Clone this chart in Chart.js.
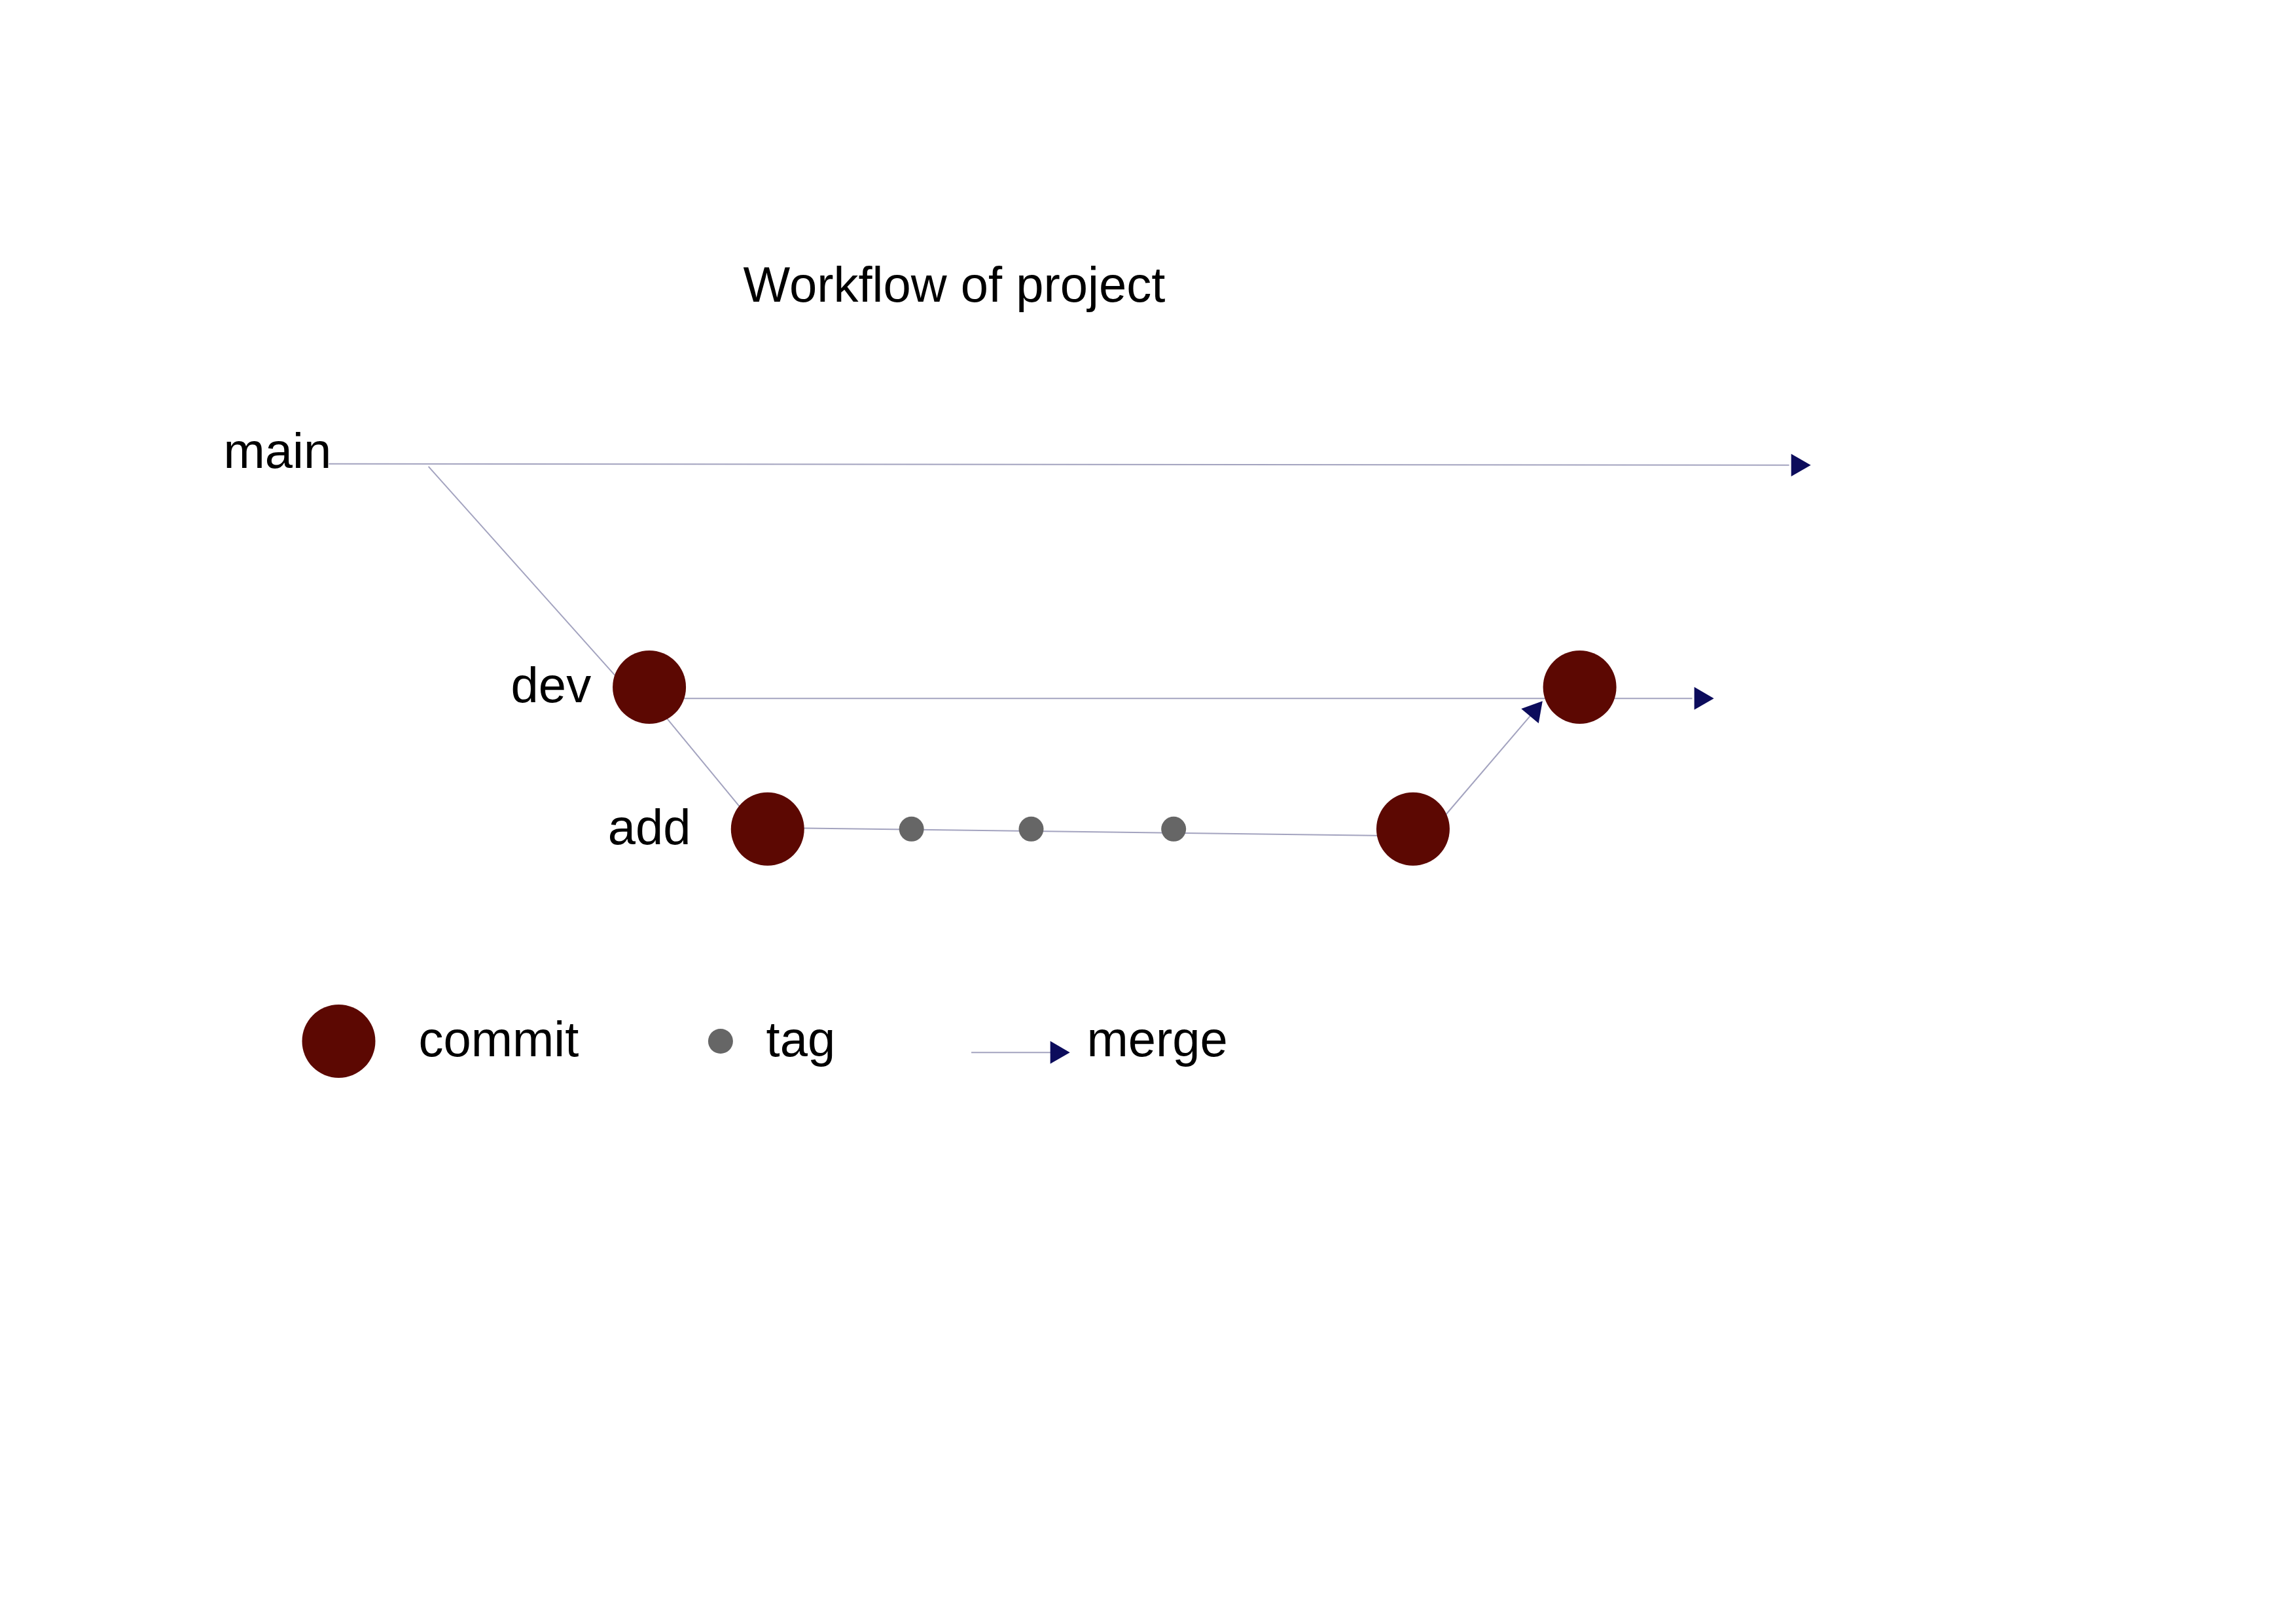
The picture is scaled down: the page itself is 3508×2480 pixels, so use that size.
<!DOCTYPE html>
<html>
<head>
<meta charset="utf-8">
<script src="https://cdn.jsdelivr.net/npm/chart.js@4.4.0/dist/chart.umd.min.js"></script>
<style>
  html, body { margin: 0; padding: 0; background: #fff; }
  #wrap { width: 3508px; height: 2480px; }
</style>
</head>
<body>
<div id="wrap"><canvas id="flow" width="3508" height="2480"></canvas></div>
<script>
// page units: 1560 x 1103 grid, stretched over the canvas
const chartTitle = 'Workflow of project';
const branchNames = ['main', 'dev', 'add'];
const branchLabelPos = [[169, 297], [361, 464], [430, 565]];
const commitX = [430, 513, 966, 1083];
const commitY = [463, 564, 564, 463];
const tagX = [614, 698, 798];
const tagY = [564, 564, 564];
const mainLine = [[205, 304], [1230, 305]];
const forkLine = [[275, 306], [408, 457]];
const devLine = [[430, 471], [1060, 471]];
const devTail = [[1083, 471], [1162, 471]];
const addFork = [[430, 470], [495, 550]];
const addLine = [[513, 563], [966, 569]];
const mergeLine = [[988, 555], [1052, 479]];
const arrowHeads = [[1236, 305, 90], [1168, 471, 90], [1051, 480, 40]];
const legendLabels = ['commit', 'tag', 'merge'];
const legendLabelPos = [[268, 716], [512, 716], [737, 716]];

const toPts = arr => arr.map(p => ({ x: p[0], y: p[1] }));
const lineColor = '#a3a3bf';
const commitColor = '#5c0802';
const tagColor = '#666666';
const arrowColor = '#0c0c5c';

function line(points) {
  return {
    data: toPts(points), showLine: true, borderColor: lineColor, borderWidth: 2,
    pointRadius: 0, order: 3
  };
}

const datasets = [
  line(mainLine), line(forkLine), line(devLine), line(devTail),
  line(addFork), line(addLine), line(mergeLine),
  line([[656, 723], [712, 723]]),
  {
    data: commitX.map((x, i) => ({ x: x, y: commitY[i] })).concat([{ x: 212, y: 715 }]),
    pointRadius: 56, pointBackgroundColor: commitColor, pointBorderWidth: 0, order: 1
  },
  {
    data: tagX.map((x, i) => ({ x: x, y: tagY[i] })).concat([{ x: 480, y: 715 }]),
    pointRadius: 19, pointBackgroundColor: tagColor, pointBorderWidth: 0, order: 1
  },
  {
    data: arrowHeads.concat([[716, 723, 90]]).map(a => ({ x: a[0], y: a[1] })),
    pointStyle: 'triangle', pointRadius: 20,
    rotation: arrowHeads.concat([[716, 723, 90]]).map(a => a[2]),
    pointBackgroundColor: arrowColor, pointBorderColor: arrowColor, pointBorderWidth: 0, order: 0
  }
];

const textPlugin = {
  id: 'texts',
  afterDatasetsDraw(chart) {
    const ctx = chart.ctx, sx = chart.scales.x, sy = chart.scales.y;
    ctx.save();
    ctx.fillStyle = '#000';
    ctx.textBaseline = 'middle';
    ctx.font = '76px "Liberation Sans", Arial, sans-serif';
    ctx.textAlign = 'center';
    ctx.fillText(chartTitle, sx.getPixelForValue(644), sy.getPixelForValue(179));
    branchNames.forEach((n, i) => {
      ctx.fillText(n, sx.getPixelForValue(branchLabelPos[i][0]), sy.getPixelForValue(branchLabelPos[i][1]));
    });
    ctx.textAlign = 'left';
    legendLabels.forEach((n, i) => {
      ctx.fillText(n, sx.getPixelForValue(legendLabelPos[i][0]), sy.getPixelForValue(legendLabelPos[i][1]));
    });
    ctx.restore();
  }
};

new Chart(document.getElementById('flow'), {
  type: 'scatter',
  data: { datasets: datasets },
  options: {
    responsive: false, animation: false, devicePixelRatio: 1,
    layout: { padding: 0 },
    scales: {
      x: { type: 'linear', min: 0, max: 1560, display: false },
      y: { type: 'linear', min: 0, max: 1103, reverse: true, display: false }
    },
    plugins: { legend: { display: false }, tooltip: { enabled: false } }
  },
  plugins: [textPlugin]
});
</script>
</body>
</html>
